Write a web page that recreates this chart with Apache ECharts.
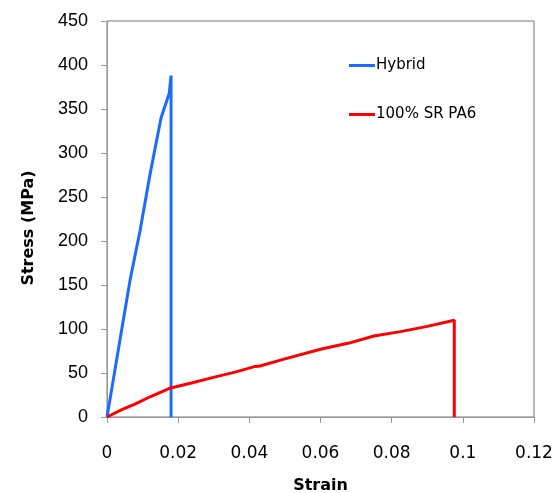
<!DOCTYPE html>
<html>
<head>
<meta charset="utf-8">
<script src="https://cdn.jsdelivr.net/npm/echarts@6/dist/echarts.min.js"></script>
<style>
  html, body { margin: 0; padding: 0; background: #fff; }
  #chart { width: 558px; height: 493px; }
</style>
</head>
<body>
<div id="chart"></div>
<script>
var dom = document.getElementById('chart');
var myChart = echarts.init(dom, null, { renderer: 'canvas' });

// strain, stress (MPa)
var hybrid = [
  [0, 0], [0.001, 24], [0.0037, 89], [0.0065, 156], [0.0093, 212],
  [0.0121, 276], [0.0135, 305], [0.0152, 340], [0.0175, 368],
  [0.018, 388], [0.018, 0]
];
var srpa6 = [
  [0, 0], [0.004, 8], [0.008, 15], [0.0121, 23], [0.0179, 33],
  [0.024, 39], [0.0299, 45], [0.036, 51], [0.0412, 57], [0.043, 58],
  [0.05, 66], [0.06, 77], [0.068, 84], [0.075, 92], [0.0825, 97],
  [0.09, 103], [0.0976, 110], [0.0976, 0]
];
var seriesNames = ['Hybrid', '100% SR PA6'];

var option = {
  animation: false,
  grid: {
    left: 107, right: 24, top: 21, bottom: 76,
    outerBoundsMode: 'none',
    containLabel: false,
    show: true, borderColor: '#777', borderWidth: 1
  },
  legend: {
    orient: 'vertical',
    left: 344, top: 53,
    itemGap: 34,
    itemWidth: 26, itemHeight: 3,
    icon: 'rect',
    textStyle: { fontFamily: 'DejaVu Sans', fontSize: 15, color: '#000', padding: [0, 0, 0, -4] },
    data: seriesNames
  },
  xAxis: {
    type: 'value',
    min: 0, max: 0.12, interval: 0.02,
    name: 'Strain',
    nameLocation: 'middle',
    nameGap: 61,
    nameTextStyle: { fontFamily: 'DejaVu Sans', fontWeight: 'bold', fontSize: 16, color: '#000' },
    axisLine: { lineStyle: { color: '#999' } },
    axisTick: { show: true, length: 6, lineStyle: { color: '#999' } },
    axisLabel: { margin: 28, fontFamily: 'DejaVu Sans', fontSize: 17, color: '#000' },
    splitLine: { show: false }
  },
  yAxis: {
    type: 'value',
    min: 0, max: 450, interval: 50,
    name: 'Stress (MPa)',
    nameLocation: 'middle',
    nameGap: 70,
    nameTextStyle: {
      fontFamily: 'DejaVu Sans', fontWeight: 'bold', fontSize: 16, color: '#000',
      padding: [0, 18, 0, 0]
    },
    axisLine: { show: true, lineStyle: { color: '#999' } },
    axisTick: { show: true, length: 6, lineStyle: { color: '#999' } },
    axisLabel: { margin: 19, fontFamily: 'Liberation Sans', fontSize: 18, color: '#000' },
    splitLine: { show: false }
  },
  series: [
    {
      name: seriesNames[0], type: 'line', data: hybrid,
      symbol: 'none', color: '#1a6cff',
      lineStyle: { width: 3, color: '#1a6cff' }
    },
    {
      name: seriesNames[1], type: 'line', data: srpa6,
      symbol: 'none', color: '#ff0000',
      lineStyle: { width: 3, color: '#ff0000' }
    }
  ]
};

myChart.setOption(option);
window.addEventListener('resize', myChart.resize);
</script>
</body>
</html>
